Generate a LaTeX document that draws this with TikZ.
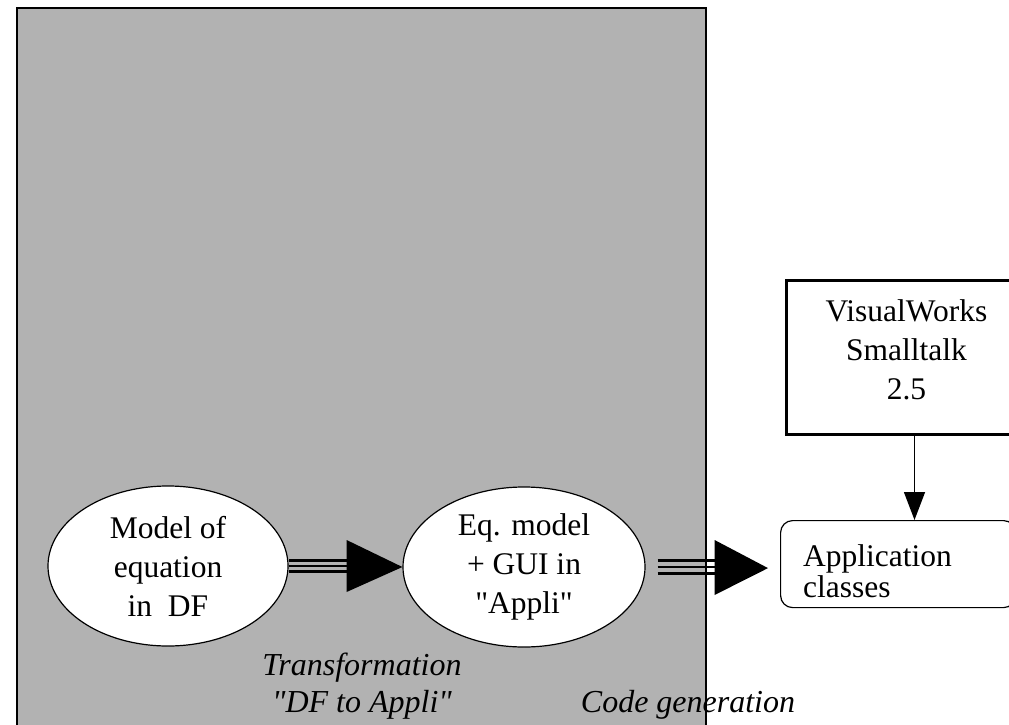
\documentclass[tikz,border=0pt]{standalone}
\usepackage{fontspec}
\setmainfont{Liberation Serif}[Ligatures=TeXOff]
\usetikzlibrary{shapes.geometric,arrows.meta,calc}
\definecolor{panelgray}{RGB}{178,178,178}
\begin{document}
\begin{tikzpicture}[x=1pt,y=-1pt,
  every node/.style={font=\fontsize{31.5}{39}\selectfont},
  ell/.style={ellipse,draw,fill=white,line width=1.2pt,minimum width=240pt,minimum height=160pt,inner sep=0pt,align=center},
  triple/.style={line width=2.2pt},
  lbl/.style={font=\fontsize{32}{37}\selectfont\itshape,align=center}]
\useasboundingbox (0,0) rectangle (1009,725);
\fill[panelgray] (17,8) rectangle (706,725);
% nodes
\node[ell] (e1) at (168,566) {Model of\\equation\\in~ DF};
\node[ell,minimum width=242pt] (e2) at (524,567) {Eq. model\\+ GUI in\\"Appli"};
\node[draw,rounded corners=12pt,line width=1.2pt,minimum width=235pt,minimum height=87pt,
      text width=190pt,inner xsep=22.5pt,inner ysep=0pt,align=left,anchor=north west,
      font=\fontsize{31.5}{31}\selectfont,text height=42pt,text depth=37pt] (app) at (780,520) {Application\\classes};
\node[draw,line width=3pt,minimum width=240pt,minimum height=154pt,inner sep=0pt,
      align=center,anchor=north west,text height=91pt,text depth=7pt] (vw) at (785,279) {VisualWorks\\Smalltalk\\2.5};
\node[lbl,anchor=base] (t1) at (362,712) {Transformation\\"DF to Appli"};
\node[lbl,anchor=base] (t2) at (688,712) {Code generation};
% panel border
\draw[line width=1.5pt] (17,725) -- (17,8) -- (706,8) -- (706,725);
% arrow 1
\foreach \dy in {-5.5,0,5.5}
  \draw[triple] ($(e1.east)+(0,\dy)$) -- ++(58,0);
\fill ($(e1.east)+(58,-26)$) -- ($(e1.east)+(58,26)$) -- (e2.west) -- cycle;
% arrow 2
\foreach \dy in {-6.5,0,6.5}
  \draw[triple] ($(e2.east)+(12,\dy)$) -- ++(57,0);
\fill ($(e2.east)+(69,-27)$) -- ($(e2.east)+(69,28)$) -- ($(app.west)+(-12,4)$) -- cycle;
% arrow vw -> app
\draw[line width=1.4pt,-{Triangle[width=21pt,length=28pt]}] ([xshift=8pt]vw.south) -- ([xshift=8pt]vw.south |- app.north);
\end{tikzpicture}
\end{document}
